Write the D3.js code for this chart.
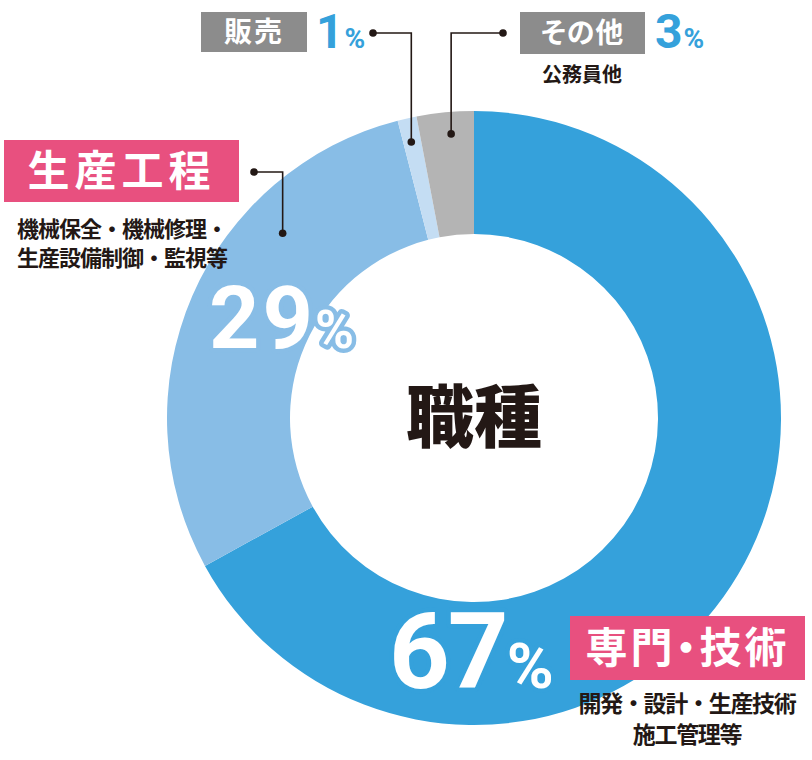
<!DOCTYPE html>
<html>
<head>
<meta charset="utf-8">
<script src="https://cdn.jsdelivr.net/npm/d3@7"></script>
<style>
  body { margin: 0; background: #fff; }
  text { font-family: "Noto Sans CJK JP", "Noto Sans", sans-serif; }
  .num { font-family: Roboto, "Noto Sans", sans-serif; font-weight: 700; }
  .palt { font-feature-settings: "palt"; }
</style>
</head>
<body>
<script>
'use strict';
// 職種の構成比
const categories = ["専門・技術", "生産工程", "販売", "その他"];
const values = [67, 29, 1, 3];
const details = [["開発・設計・生産技術", "施工管理等"], ["機械保全・機械修理・", "生産設備制御・監視等"], [], ["公務員他"]];
const sliceColors = ["#35a1db", "#88bde6", "#c4ddf3", "#b4b4b4"];
const centerTitle = "職種";

const width = 812, height = 760;
const cx = 474, cy = 418;
const outerR = 307, innerR = 184;

const svg = d3.select("body").append("svg")
    .attr("width", width)
    .attr("height", height);

const pie = d3.pie().sort(null).value(d => d);
const arcs = pie(values);
const arc = d3.arc().innerRadius(innerR).outerRadius(outerR);

const g = svg.append("g").attr("transform", `translate(${cx},${cy})`);

g.selectAll("path.slice")
    .data(arcs)
    .enter()
    .append("path")
    .attr("class", "slice")
    .attr("d", arc)
    .attr("fill", (d, i) => sliceColors[i]);

g.append("text")
    .attr("text-anchor", "middle")
    .attr("dy", "0.36em")
    .attr("font-size", 68)
    .attr("font-weight", 900)
    .attr("fill", "#231815")
    .text(centerTitle);

// big percent labels inside the ring
function bigPct(x, y, value, size, halo, sp, gap) {
    const t = svg.append("text")
        .attr("class", "num")
        .attr("x", x).attr("y", y)
        .attr("fill", "#fff")
        .attr("stroke", halo)
        .attr("stroke-width", 9)
        .attr("stroke-linejoin", "round")
        .attr("paint-order", "stroke")
        .attr("font-size", size);
    t.append("tspan").attr("letter-spacing", sp).text(value);
    t.append("tspan").attr("font-size", size * 0.6).attr("dx", gap).text("%");
}
bigPct(209, 348, values[1], 88, sliceColors[1], 3, -1);
bigPct(389, 688, values[0], 106, sliceColors[0], -2, 0);

// label boxes
function box(x, y, w, h, fill, label, size, sp) {
    svg.append("rect")
        .attr("x", x).attr("y", y)
        .attr("width", w).attr("height", h)
        .attr("fill", fill);
    svg.append("text")
        .attr("class", "palt")
        .attr("x", x + w / 2).attr("y", y + h / 2)
        .attr("dy", "0.36em")
        .attr("text-anchor", "middle")
        .attr("font-size", size)
        .attr("font-weight", 700)
        .attr("fill", "#fff")
        .attr("letter-spacing", sp)
        .text(label);
}
function small(x, y, lines, size, sp, lh) {
    lines.forEach((s, k) => {
        svg.append("text")
            .attr("x", x).attr("y", y + k * lh)
            .attr("text-anchor", "middle")
            .attr("font-size", size)
            .attr("font-weight", 700)
            .attr("letter-spacing", sp)
            .attr("fill", "#231815")
            .text(s);
    });
}
function smallPct(x, y, value) {
    const t = svg.append("text")
        .attr("class", "num")
        .attr("x", x).attr("y", y)
        .attr("fill", "#35a1db")
        .attr("font-size", 48);
    t.append("tspan").text(value);
    t.append("tspan").attr("font-size", 28).attr("dx", 1).text("%");
}

box(570, 616, 235, 64, "#e8507f", categories[0], 42, 3);
small(687, 712, details[0], 23, -1.3, 31);

box(4, 140, 235, 62, "#e8507f", categories[1], 42, 5);
small(122, 237, details[1], 22, -1, 29);

box(201, 12, 106, 40, "#8c8c8c", categories[2], 28, 2);
smallPct(316, 48, values[2]);

box(520, 12, 125, 42, "#8c8c8c", categories[3], 28, 1);
smallPct(655, 48, values[3]);
small(582, 82, details[3], 20, 0, 30);

// leader lines: from the label dot to a point on its slice
const leaders = [
    { i: 1, from: [254, 172], angle: 314, r: 266 },
    { i: 2, from: [373, 33], angle: 347.2, r: 283 },
    { i: 3, from: [503, 33], angle: 355.4, r: 285 }
];
leaders.forEach(l => {
    const p = d3.pointRadial(l.angle * Math.PI / 180, l.r);
    const sx = cx + p[0], sy = cy + p[1];
    svg.append("path")
        .attr("d", `M${l.from[0]},${l.from[1]}H${sx}V${sy}`)
        .attr("fill", "none")
        .attr("stroke", "#231815")
        .attr("stroke-width", 1.6);
    [[l.from[0], l.from[1]], [sx, sy]].forEach(c => {
        svg.append("circle")
            .attr("cx", c[0]).attr("cy", c[1])
            .attr("r", 3.8)
            .attr("fill", "#231815");
    });
});
</script>
</body>
</html>
